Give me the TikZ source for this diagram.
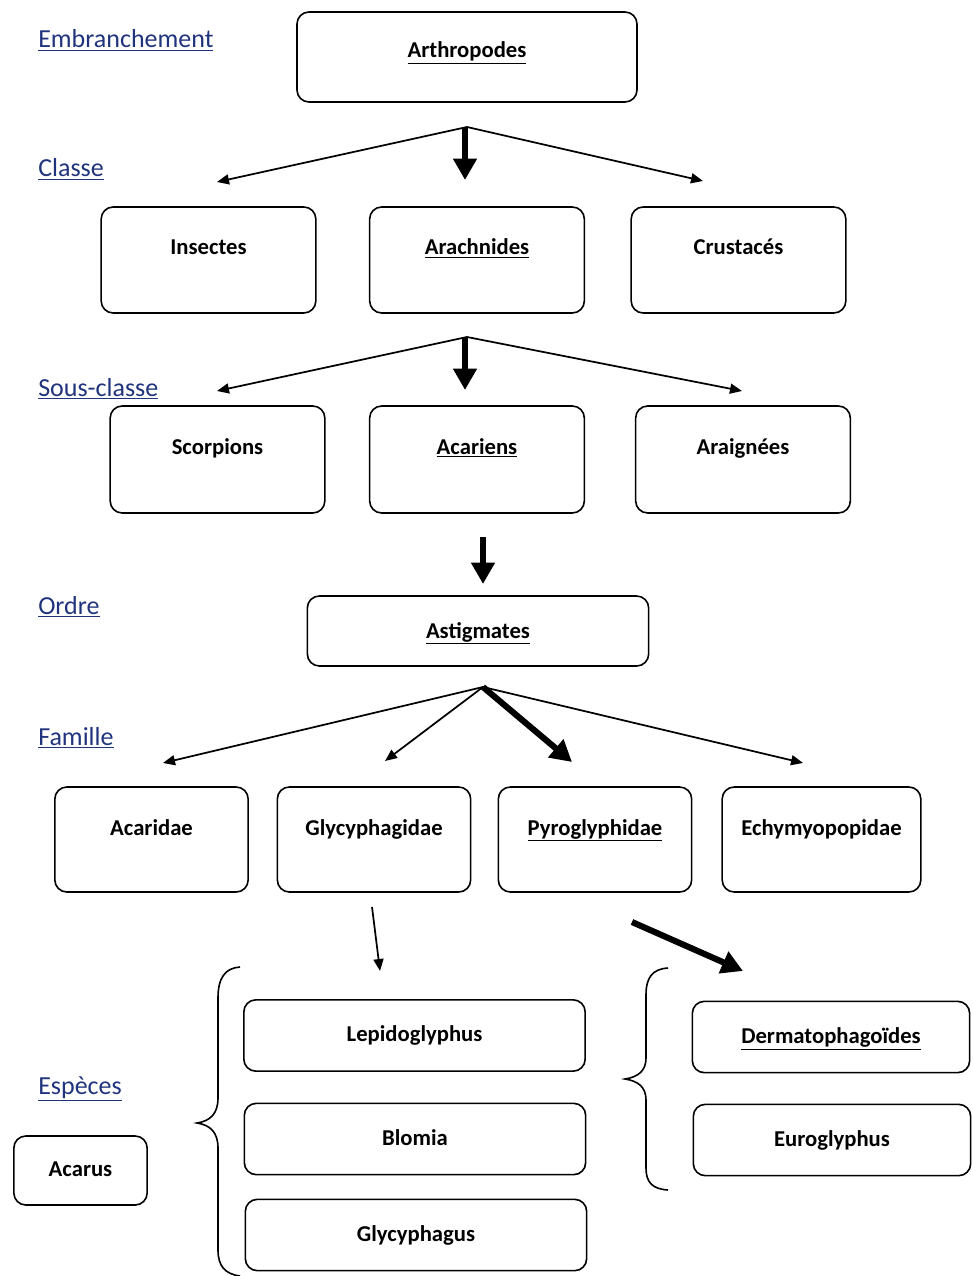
\documentclass[tikz,border=0pt]{standalone}
\usepackage{fontspec}
\setmainfont{Carlito}
\usetikzlibrary{
  arrows.meta,
}
\definecolor{levelblue}{RGB}{32,52,125}
\tikzset{
  box/.style={
    rectangle,
    rounded corners=9pt,
    draw=black,
    line width=1.2pt,
    inner sep=0pt,
    text centered,
    font=\fontsize{17}{20}\selectfont\bfseries
  },
  topbox/.style={
    box,
    minimum width=255pt,
    text height=34.5pt,
    text depth=33pt
  },
  rowbox/.style={
    box,
    minimum width=161pt,
    text height=36pt,
    text depth=43.5pt
  },
  fambox/.style={
    box,
    minimum width=145pt,
    text height=36pt,
    text depth=42.75pt
  },
  midbox/.style={
    box,
    minimum width=256pt,
    text height=31.5pt,
    text depth=21pt
  },
  spbox/.style={
    box,
    minimum width=256pt,
    text height=31.5pt,
    text depth=22pt
  },
  level/.style={
    anchor=base west,
    inner sep=0pt,
    text=levelblue,
    font=\fontsize{19.5}{22}\selectfont
  },
  thinarr/.style={
    line width=1.3pt,
    -{Triangle[length=9pt, width=7.5pt]},
  },
  thickarr/.style={
    line width=4.6pt,
    -{Triangle[length=16pt, width=17pt]},
  },
  brace/.style={
    line width=1.2pt,
  },
}

\begin{document}
\begin{tikzpicture}[x=0.75pt, y=-0.75pt]

  \useasboundingbox (0,0) rectangle (972,1276);

  % Levels
  \node (lv_emb) [level] at (38,48) {\underline{Embranchement}};
  \node (lv_cla) [level] at (38,177) {\underline{Classe}};
  \node (lv_sou) [level] at (38,396) {\underline{Sous-classe}};
  \node (lv_ord) [level] at (38,614) {\underline{Ordre}};
  \node (lv_fam) [level] at (38,745) {\underline{Famille}};
  \node (lv_esp) [level] at (38,1094) {\underline{Espèces}};

  % Embranchement and classes
  \node (arthro) [topbox] at (467,57) {\underline{Arthropodes}};
  \node (insect) [rowbox] at (208.5,260) {Insectes};
  \node (arach) [rowbox] at (477,260) {\underline{Arachnides}};
  \node (crust) [rowbox] at (738.5,260) {Crustacés};

  % Sub-classes
  \node (scorp) [rowbox, text depth=44.25pt] at (217.5,459.5) {Scorpions};
  \node (acar) [rowbox, text depth=44.25pt] at (477,459.5) {\underline{Acariens}};
  \node (araig) [rowbox, text depth=44.25pt] at (743,459.5) {Araignées};

  % Order
  \node (astig) [midbox] at (478,631) {\underline{Astigmates}};

  % Families
  \node (acarid) [fambox] at (151.5,839.5) {Acaridae};
  \node (glycid) [fambox] at (374,839.5) {Glycyphagidae};
  \node (pyro) [fambox] at (595,839.5) {\underline{Pyroglyphidae}};
  \node (echy) [fambox, minimum width=149pt] at (821.5,839.5) {Echymyopopidae};

  % Species
  \node (lepido) [spbox] at (414.5,1035.5) {Lepidoglyphus};
  \node (blomia) [spbox] at (415,1139) {Blomia};
  \node (glycus) [spbox] at (416,1235) {Glycyphagus};
  \node (dermato) [spbox, minimum width=208pt] at (831,1037) {\underline{Dermatophagoïdes}};
  \node (euro) [spbox, minimum width=208pt] at (832,1140) {Euroglyphus};
  \node (acarus) [spbox, minimum width=100pt, text height=30pt, text depth=21.75pt] at (80.5,1170.5) {Acarus};

  % Arrow ends
  \coordinate (f1) at (467,127);
  \coordinate (f2) at (467,337);
  \coordinate (f3) at (483,687);
  \coordinate (e_ins) at (217,182);
  \coordinate (e_ara) at (465,180);
  \coordinate (e_cru) at (703,181);
  \coordinate (e_sco) at (217,391);
  \coordinate (e_aca) at (465,390);
  \coordinate (e_arg) at (742,391);
  \coordinate (o_top) at (483,537);
  \coordinate (e_ast) at (483,584);
  \coordinate (e_acd) at (163,763);
  \coordinate (e_gly) at (385,761);
  \coordinate (e_pyr) at (572,762);
  \coordinate (e_ech) at (803,763);
  \coordinate (g_top) at (372,907);
  \coordinate (e_lep) at (380,971);
  \coordinate (p_top) at (632,922);
  \coordinate (e_der) at (743,971);

  % Arrows
  \draw [thinarr] (f1) -- (e_ins);
  \draw [thickarr] (f1 -| e_ara) -- (e_ara);
  \draw [thinarr] (f1) -- (e_cru);

  \draw [thinarr] (f2) -- (e_sco);
  \draw [thickarr] (f2 -| e_aca) -- (e_aca);
  \draw [thinarr] (f2) -- (e_arg);

  \draw [thickarr] (o_top) -- (e_ast);

  \draw [thinarr] (f3) -- (e_acd);
  \draw [thinarr] (f3) -- (e_gly);
  \draw [thickarr] (f3) -- (e_pyr);
  \draw [thinarr] (f3) -- (e_ech);

  \draw [thinarr] (g_top) -- (e_lep);
  \draw [thickarr] (p_top) -- (e_der);

  % Braces
  \draw [brace] (240,967) .. controls (225,968) and (218,978) .. (218,998)
    -- (218,1098) .. controls (218,1114) and (210,1121) .. (197,1123)
    .. controls (210,1125) and (218,1132) .. (218,1148)
    -- (218,1250) .. controls (218,1266) and (225,1274) .. (240,1276);
  \draw [brace] (668,968) .. controls (652,969) and (646,978) .. (646,995)
    -- (646,1058) .. controls (646,1071) and (638,1077) .. (625,1079)
    .. controls (638,1081) and (646,1087) .. (646,1100)
    -- (646,1168) .. controls (646,1182) and (652,1189) .. (668,1190);

\end{tikzpicture}
\end{document}
